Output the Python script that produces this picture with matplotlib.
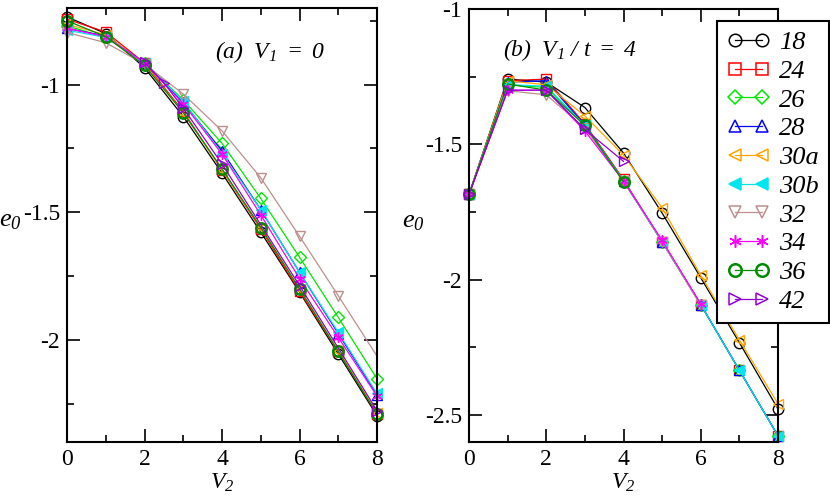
import numpy as np
import matplotlib
matplotlib.use('Agg')
import matplotlib.pyplot as plt
from matplotlib.lines import Line2D
from matplotlib.ticker import MultipleLocator
from matplotlib.font_manager import FontProperties

plt.rcParams['font.family'] = 'Liberation Serif'
plt.rcParams['mathtext.fontset'] = 'custom'
plt.rcParams['mathtext.it'] = 'Liberation Serif:italic'
plt.rcParams['mathtext.rm'] = 'Liberation Serif:italic'
plt.rcParams['mathtext.default'] = 'it'

# series labels and styles (xmgrace look)
labels = ['18', '24', '26', '28', '30a', '30b', '32', '34', '36', '42']
colors = ['black', '#ff0000', '#00e600', '#0000ff', '#ffa500', '#00e5ee',
          '#bc8f8f', '#ff00ff', '#008b00', '#9400d3']
markers = ['o', 's', 'D', '^', '<', '<', 'v', (6, 2, 0), 'o', '>']
filled = [False, False, False, False, False, True, False, True, False, False]

V2 = [0, 1, 2, 3, 4, 5, 6, 7, 8]

# panel (a): V1 = 0
a_x = {
    '18': V2, '24': V2, '26': V2, '28': V2, '30a': V2, '30b': V2,
    '32': V2[:8] + [9], '34': V2, '36': V2, '42': [2, 2.5, 3, 4, 6, 8],
}
a_y = {
    '18': [-0.735, -0.800, -0.934, -1.125, -1.347, -1.578, -1.813, -2.055, -2.297],
    '24': [-0.744, -0.794, -0.915, -1.105, -1.335, -1.565, -1.810, -2.045, -2.290],
    '26': [-0.770, -0.815, -0.915, -1.060, -1.230, -1.446, -1.676, -1.912, -2.152],
    '28': [-0.780, -0.810, -0.915, -1.070, -1.260, -1.490, -1.735, -1.975, -2.215],
    '30a': [-0.764, -0.805, -0.920, -1.110, -1.335, -1.560, -1.800, -2.043, -2.285],
    '30b': [-0.787, -0.815, -0.915, -1.065, -1.270, -1.490, -1.735, -1.970, -2.210],
    '32': [-0.796, -0.836, -0.920, -1.037, -1.181, -1.365, -1.594, -1.827, -2.300],
    '34': [-0.780, -0.812, -0.915, -1.075, -1.272, -1.510, -1.760, -1.990, -2.220],
    '36': [-0.750, -0.812, -0.925, -1.110, -1.330, -1.560, -1.800, -2.045, -2.290],
    '42': [-0.913, -0.993, -1.092, -1.311, -1.787, -2.277],
}

# panel (b): V1/t = 4
b_x = {
    '18': V2, '24': V2, '26': V2, '28': V2, '30a': V2, '30b': V2,
    '32': V2[:7], '34': V2[:7], '36': V2[:5], '42': V2[:5],
}
b_y = {
    '18': [-1.685, -1.259, -1.270, -1.364, -1.532, -1.754, -1.993, -2.233, -2.478],
    '24': [-1.685, -1.265, -1.259, -1.425, -1.630, -1.860, -2.092, -2.335, -2.577],
    '26': [-1.685, -1.280, -1.290, -1.430, -1.635, -1.860, -2.092, -2.335, -2.577],
    '28': [-1.685, -1.270, -1.265, -1.430, -1.635, -1.860, -2.092, -2.335, -2.577],
    '30a': [-1.685, -1.265, -1.280, -1.395, -1.540, -1.735, -1.984, -2.223, -2.459],
    '30b': [-1.685, -1.280, -1.285, -1.430, -1.635, -1.860, -2.092, -2.335, -2.577],
    '32': [-1.685, -1.302, -1.317, -1.440, -1.635, -1.860, -2.095],
    '34': [-1.685, -1.300, -1.300, -1.451, -1.635, -1.855, -2.090],
    '36': [-1.685, -1.277, -1.300, -1.430, -1.638],
    '42': [-1.685, -1.300, -1.300, -1.445, -1.563],
}

FS = 17
LFS = 19


def style_axes(ax, ylim, ymajor):
    ax.set_xlim(0, 8)
    ax.set_ylim(*ylim)
    ax.xaxis.set_major_locator(MultipleLocator(2))
    ax.xaxis.set_minor_locator(MultipleLocator(1))
    ax.yaxis.set_major_locator(MultipleLocator(ymajor))
    ax.yaxis.set_minor_locator(MultipleLocator(ymajor / 2))
    ax.tick_params(which='both', direction='in', top=True, right=True,
                   labelsize=FS, width=1.2, pad=5)
    ax.tick_params(which='major', length=9.5)
    ax.tick_params(which='minor', length=5)
    for s in ax.spines.values():
        s.set_linewidth(1.5)
    ax.yaxis.set_major_formatter(matplotlib.ticker.FuncFormatter(
        lambda v, p: ('%g' % v)))


def draw(ax, xs, ys):
    for i, lab in enumerate(labels):
        x = np.array(xs[lab], dtype=float)
        y = np.array(ys[lab], dtype=float)
        c = colors[i]
        mew = 1.8 if lab == '36' else 1.0
        ms = 6 if markers[i] == 'D' else 7.5
        ax.plot(x, y, '-', color=c, lw=0.9)
        keep = x <= 8
        ax.plot(x[keep], y[keep], ls='none', marker=markers[i], ms=ms,
                mec=c, mfc=c if filled[i] else 'none', mew=mew, clip_on=False)


fig = plt.figure(figsize=(8.3, 4.98), dpi=100)
ax1 = fig.add_axes([67 / 830, 1 - 442 / 498, 310 / 830, 434 / 498])
ax2 = fig.add_axes([469 / 830, 1 - 442 / 498, 309 / 830, 433 / 498])

draw(ax1, a_x, a_y)
draw(ax2, b_x, b_y)
style_axes(ax1, (-2.4, -0.7), 0.5)
style_axes(ax2, (-2.6, -1.0), 0.5)

for ax, xc, yc in ((ax1, -0.184, 0.51), (ax2, -0.181, 0.508)):
    ax.set_xlabel('$V_2$', fontsize=FS)
    ax.xaxis.set_label_coords(0.5, -0.068)
    ax.set_ylabel('$e_0$', fontsize=19, rotation=0, ha='center', va='center')
    ax.yaxis.set_label_coords(xc, yc)

ax1.text(0.477, 0.885, r'$(a)\ \ V_1\ =\ 0$', transform=ax1.transAxes,
         fontsize=FS, va='baseline')
ax2.text(0.11, 0.891, r'$(b)\ \ V_1\ /\ t\ =\ 4$', transform=ax2.transAxes,
         fontsize=FS, va='baseline')

handles = []
for i, lab in enumerate(labels):
    c = colors[i]
    handles.append(Line2D([], [], color=c, lw=0.9, marker=markers[i],
                          ms=9 if markers[i] != 'D' else 7.5, mec=c,
                          mfc=c if filled[i] else 'none',
                          mew=1.8 if lab == '36' else 1.1))
leg = fig.legend(handles, labels, loc='upper left',
                 bbox_to_anchor=(717 / 830, 1 - 21 / 498), borderaxespad=0,
                 numpoints=2, handlelength=1.63, handletextpad=0.35,
                 labelspacing=0.2, borderpad=0.37, fancybox=False,
                 framealpha=1, edgecolor='black',
                 prop=FontProperties(family='Liberation Serif',
                                     style='italic', size=LFS))
leg.get_frame().set_linewidth(1.5)

fig.savefig('out.png', dpi=100)
